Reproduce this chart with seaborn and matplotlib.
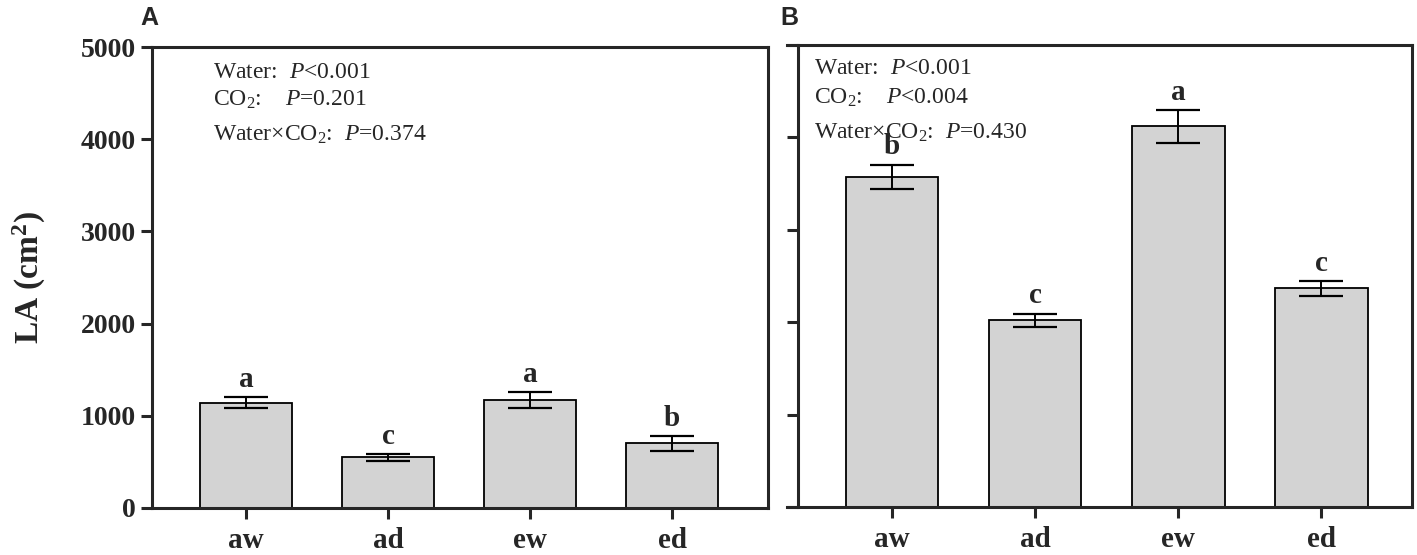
import matplotlib
matplotlib.use("Agg")
import matplotlib.pyplot as plt
import seaborn as sns

# data
groups = ["aw", "ad", "ew", "ed"]

la_a = [1140, 550, 1170, 700]
err_a = [60, 35, 87, 79]
letters_a = ["a", "c", "a", "b"]
stats_a = [r"Water:  $\mathit{P}$<0.001",
           r"CO$_2$:    $\mathit{P}$=0.201",
           r"Water×CO$_2$:  $\mathit{P}$=0.374"]

la_b = [3575, 2020, 4120, 2365]
err_b = [130, 73, 180, 77]
letters_b = ["b", "c", "a", "c"]
stats_b = [r"Water:  $\mathit{P}$<0.001",
           r"CO$_2$:    $\mathit{P}$<0.004",
           r"Water×CO$_2$:  $\mathit{P}$=0.430"]

yticks = [0, 1000, 2000, 3000, 4000, 5000]

sns.set_style("ticks")
plt.rcParams["font.family"] = ["Liberation Serif", "DejaVu Serif"]
plt.rcParams["mathtext.fontset"] = "custom"
plt.rcParams["mathtext.rm"] = "Liberation Serif"
plt.rcParams["mathtext.it"] = "Liberation Serif:italic"
plt.rcParams["mathtext.bf"] = "Liberation Serif:bold"

fig = plt.figure(figsize=(14.17, 5.55), dpi=100)
ax_a = fig.add_axes([0.1073, 0.0847, 0.4347, 0.8306])
ax_b = fig.add_axes([0.5554, 0.0865, 0.4411, 0.8324])


def draw_panel(ax, vals, errs, letters, stats, xlim, text_x, text_y):
    sns.barplot(x=groups, y=vals, color="#d3d3d3", saturation=1,
                edgecolor="black", linewidth=1.3, width=0.65, ax=ax)
    ax.errorbar(range(len(groups)), vals, yerr=errs, fmt="none",
                ecolor="black", elinewidth=1.4, capsize=16, capthick=1.6)
    for i, (v, e, lab) in enumerate(zip(vals, errs, letters)):
        ax.annotate(lab, (i, v + e), xytext=(0, 3), textcoords="offset points",
                    ha="center", va="bottom", fontsize=21, fontweight="bold")
    for t, yy in zip(stats, text_y):
        ax.text(text_x, yy, t, transform=ax.transAxes, fontsize=17,
                ha="left", va="baseline")
    ax.set_xlim(*xlim)
    ax.set_ylim(0, 5000)
    ax.set_yticks(yticks)
    ax.set_xlabel("")
    for s in ax.spines.values():
        s.set_linewidth(2.2)
        s.set_visible(True)
    ax.tick_params(axis="both", direction="out", length=8, width=2.2)
    ax.tick_params(axis="x", pad=6, labelsize=21)
    ax.tick_params(axis="y", labelsize=20)
    for lbl in ax.get_xticklabels() + ax.get_yticklabels():
        lbl.set_fontweight("bold")


draw_panel(ax_a, la_a, err_a, letters_a, stats_a, (-0.662, 3.676),
           0.099, [0.933, 0.873, 0.797])
ax_a.set_ylabel(r"LA (cm$^{\mathbf{2}}$)", fontsize=24, fontweight="bold",
                labelpad=24)

draw_panel(ax_b, la_b, err_b, letters_b, stats_b, (-0.734, 3.636),
           0.043, [0.937, 0.874, 0.797])
ax_b.spines["left"].set_position(("data", -0.66))
ax_b.set_yticklabels([])
ax_b.set_ylabel("")

fig.text(0.099, 0.955, "A", fontsize=18, fontweight="bold",
         family=["Liberation Sans", "DejaVu Sans"])
fig.text(0.551, 0.955, "B", fontsize=18, fontweight="bold",
         family=["Liberation Sans", "DejaVu Sans"])

fig.savefig("out.png", dpi=100)
